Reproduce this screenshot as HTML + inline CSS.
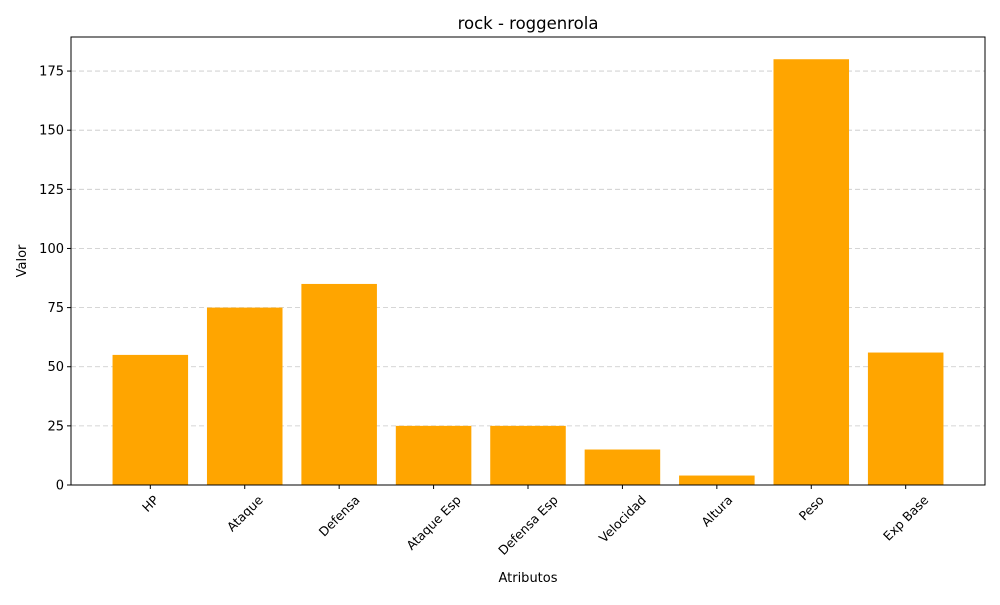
<!DOCTYPE html>
<html><head><meta charset="utf-8"><style>
html,body{margin:0;padding:0;background:#fff;}
svg text{font-family:"DejaVu Sans","Liberation Sans",sans-serif;}
</style></head><body>
<svg id="chart" width="1000" height="600" viewBox="0 0 1000 600">
<rect width="1000" height="600" fill="#fff"/>
<text x="528" y="29" font-size="16.5" text-anchor="middle">rock - roggenrola</text>
<g id="grid"></g>
<g id="bars"></g>
<rect x="71" y="37" width="914" height="448" fill="none" stroke="#000" stroke-width="1"/>
<g id="yticks"></g>
<g id="xticks"></g>
<text x="528" y="582" font-size="13" text-anchor="middle">Atributos</text>
<text transform="translate(26,261) rotate(-90)" font-size="13" text-anchor="middle">Valor</text>
</svg>
<script>
const categories = ["HP","Ataque","Defensa","Ataque Esp","Defensa Esp","Velocidad","Altura","Peso","Exp Base"];
const values = [55,75,85,25,25,15,4,180,56];
const yTicks = [0,25,50,75,100,125,150,175];

const NS="http://www.w3.org/2000/svg";
const L=71,R=985,T=37,B=485;
const yMax=189.4;
const xMin=-0.84,xMax=categories.length-1+0.84;
function y(v){return B-(v/yMax)*(B-T);}
function x(i){return L+(i-xMin)/(xMax-xMin)*(R-L);}
const bw=0.8*(R-L)/(xMax-xMin);
function mk(tag,attrs,parent){const e=document.createElementNS(NS,tag);for(const k in attrs)e.setAttribute(k,attrs[k]);parent.appendChild(e);return e;}
const grid=document.getElementById('grid'),bars=document.getElementById('bars'),yt=document.getElementById('yticks'),xt=document.getElementById('xticks');
yTicks.forEach(v=>{
  const yy=y(v);
  if(v>0){const g=mk('line',{x1:L,x2:R,y1:yy,y2:yy,stroke:'#c8c8c8','stroke-dasharray':'5,3','stroke-width':0.8},grid);
  
  }
  const t=mk('line',{x1:L-4,x2:L,y1:yy,y2:yy,stroke:'#000'},yt);
  
  
  const lb=mk('text',{x:L-7,y:yy+4.5,'font-size':13,'text-anchor':'end'},yt);
  lb.textContent=v;
  
  
});
categories.forEach((c,i)=>{
  const cx=x(i);
  const r=mk('rect',{x:cx-bw/2,y:y(values[i]),width:bw,height:B-y(values[i]),fill:'#ffa500'},bars);
  
  
  const t=mk('line',{x1:cx,x2:cx,y1:B,y2:B+4,stroke:'#000'},xt);
  
  
  const lb=mk('text',{'font-size':12.5,'text-anchor':'middle'},xt);
  lb.textContent=c;
  
  
  const w=lb.getComputedTextLength();
  const h=(w+13)*0.7071;
  const cy=B+8+h/2;
  lb.setAttribute('transform',`translate(${cx},${cy}) rotate(-45) translate(0,4.5)`);
});
</script>
</body></html>
